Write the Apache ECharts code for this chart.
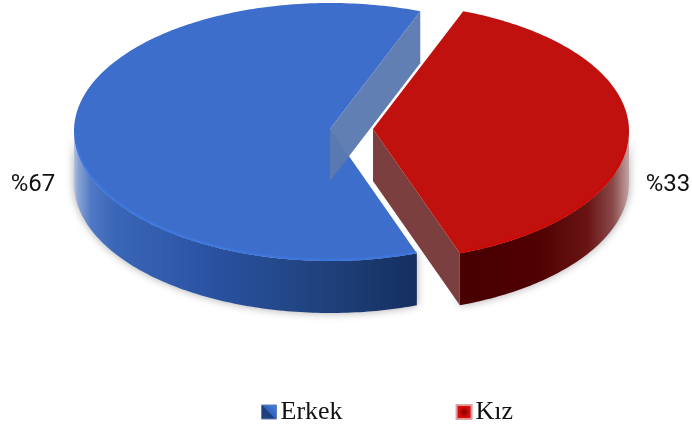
<!DOCTYPE html>
<html><head><meta charset="utf-8">
<style>html,body{margin:0;padding:0;background:#fff}#c{width:692px;height:426px}</style>
<script src="https://cdn.jsdelivr.net/npm/echarts@6/dist/echarts.min.js"></script>
</head><body><div id="c"></div>
<script>
var categories = ['Erkek', 'Kız'];
var values = [67, 33];
var labelPrefix = '%';

var total = values.reduce(function (a, b) { return a + b; }, 0);
var firstStart = 180 - values[0] / total * 180;   // first slice is centred on the left
var TILT = { rx: 256, ryBack: 128, ryFront: 130, depth: 52, warpBack: 1.57, warpFront: 1.64, vertexLift: 2 };
var G = echarts.graphic;
function lin(x0, x1, stops) {
  return new G.LinearGradient(x0, 0, x1, 0, stops.map(function (s) { return { offset: s[0], color: s[1] }; }), true);
}
var looks = [
  { cx: 330, cy: 131, top: '#3d6ecb', rim: 'rgba(62,120,226,0.8)', wall: 'rgba(92,122,176,0.96)',
    labelX: 33, labelY: 185,
    side: function () { return lin(74, 417, [[0, '#b4c4e0'], [0.012, '#8aa3d3'], [0.05, '#4f78c4'], [0.12, '#3a66b8'], [0.4, '#2a52a2'], [0.7, '#20437f'], [1, '#152f60']]); } },
  { cx: 373, cy: 131, top: '#c0110e', rim: 'rgba(208,8,4,0.8)', wall: '#7a3f3e',
    labelX: 668, labelY: 185,
    side: function () { return lin(461, 630, [[0, '#480000'], [0.45, '#4f0000'], [0.75, '#6a1414'], [0.9, '#8a4a4a'], [1, '#c8aaaa']]); } }
];
function phi(deg) {
  var t = deg * Math.PI / 180;
  var k = Math.sin(t) >= 0 ? TILT.warpBack : TILT.warpFront;
  var a = Math.atan2(k * Math.sin(t), Math.cos(t));
  var turns = Math.round((t - a) / (2 * Math.PI));
  return a + turns * 2 * Math.PI;
}
function pt(l, a, dy, inset) {
  var ry = Math.sin(a) >= 0 ? TILT.ryBack : TILT.ryFront;
  var d = inset || 0;
  return [l.cx + (TILT.rx - d) * Math.cos(a), l.cy - (ry - d) * Math.sin(a) + (dy || 0)];
}
function arc(l, a0, a1, dy, inset) {
  var out = [], n = Math.max(8, Math.ceil(Math.abs(a1 - a0) * 60));
  for (var i = 0; i <= n; i++) out.push(pt(l, a0 + (a1 - a0) * i / n, dy, inset));
  return out;
}
function sliceRange(idx) {
  var s = firstStart;
  for (var i = 0; i < idx; i++) s += values[i] / total * 360;
  return [s, s + values[idx] / total * 360];
}
function renderSlice(idx) {
  return function () {
    var l = looks[idx], r = sliceRange(idx);
    var a0 = phi(r[0]), a1 = phi(r[1]);
    var v = [l.cx, l.cy - TILT.vertexLift], vb = [v[0], v[1] + TILT.depth];
    var rimArc = arc(l, a0, a1);
    // front (visible) part of the outer side: the lower half of the ellipse
    var from = idx === 0 ? Math.PI : a0;
    var to = idx === 0 ? a1 : Math.min(a1, 2 * Math.PI);
    var frontTop = arc(l, from, to);
    var frontBot = arc(l, from, to, TILT.depth).reverse();
    var wallTip = pt(l, a0), wallTipB = pt(l, a0, TILT.depth);
    var shadow = { shadowBlur: 8, shadowColor: 'rgba(0,0,0,0.34)' };
    var children = [
      { type: 'polygon', shape: { points: frontTop.concat(frontBot) },
        style: Object.assign({ fill: l.side() }, shadow) }
    ];
    var faceEl = { type: 'polygon', shape: { points: [v].concat(rimArc) }, style: { fill: l.top } };
    var rimEl = { type: 'polyline', shape: { points: arc(l, from + (idx === 0 ? 0.12 : 0), to - (idx === 0 ? 0 : 0.12), 0, 1.2) },
      style: { fill: null, stroke: l.rim, lineWidth: 2.2 } };
    var wallEl = { type: 'polygon', shape: { points: [v, wallTip, wallTipB, vb] }, style: { fill: l.wall } };
    if (idx === 1) {
      children.push(wallEl, faceEl, rimEl);
    } else {
      children.push(faceEl, rimEl, wallEl);
    }
    children.push({ type: 'text', style: {
      x: l.labelX, y: l.labelY, text: labelPrefix + values[idx], align: 'center', verticalAlign: 'middle',
      font: '24px Roboto', fill: '#111' } });
    return { type: 'group', children: children };
  };
}
var legendLooks = [
  { color: new G.LinearGradient(1, 0, 0, 1, [{ offset: 0, color: '#4a84e8' }, { offset: 0.5, color: '#2f62bb' }, { offset: 0.52, color: '#1d3d7c' }, { offset: 1, color: '#24467f' }]),
    borderColor: '#5f7fb8', borderWidth: 1 },
  { color: new G.RadialGradient(0.5, 0.5, 0.6, [{ offset: 0, color: '#7a0000' }, { offset: 0.5, color: '#d40a0a' }, { offset: 1, color: '#e01010' }]),
    borderColor: '#dca0a0', borderWidth: 2 }
];
var chart = echarts.init(document.getElementById('c'), null, { renderer: 'canvas' });
chart.setOption({
  animation: false,
  backgroundColor: '#fff',
  legend: {
    left: 256, top: 394, itemWidth: 15, itemHeight: 14, itemGap: 113, selectedMode: false, icon: 'rect',
    textStyle: { fontFamily: 'Liberation Serif', fontSize: 26, color: '#111', padding: [0, 0, 0, -1] },
    data: categories.map(function (n, i) { return { name: n, itemStyle: legendLooks[i] }; })
  },
  series: categories.map(function (n, i) {
    return { type: 'custom', name: n, coordinateSystem: 'none', silent: true, z: i + 1, clip: false,
      itemStyle: { color: looks[i].top }, data: [{ name: n, value: values[i] }], renderItem: renderSlice(i) };
  })
});
</script></body></html>
